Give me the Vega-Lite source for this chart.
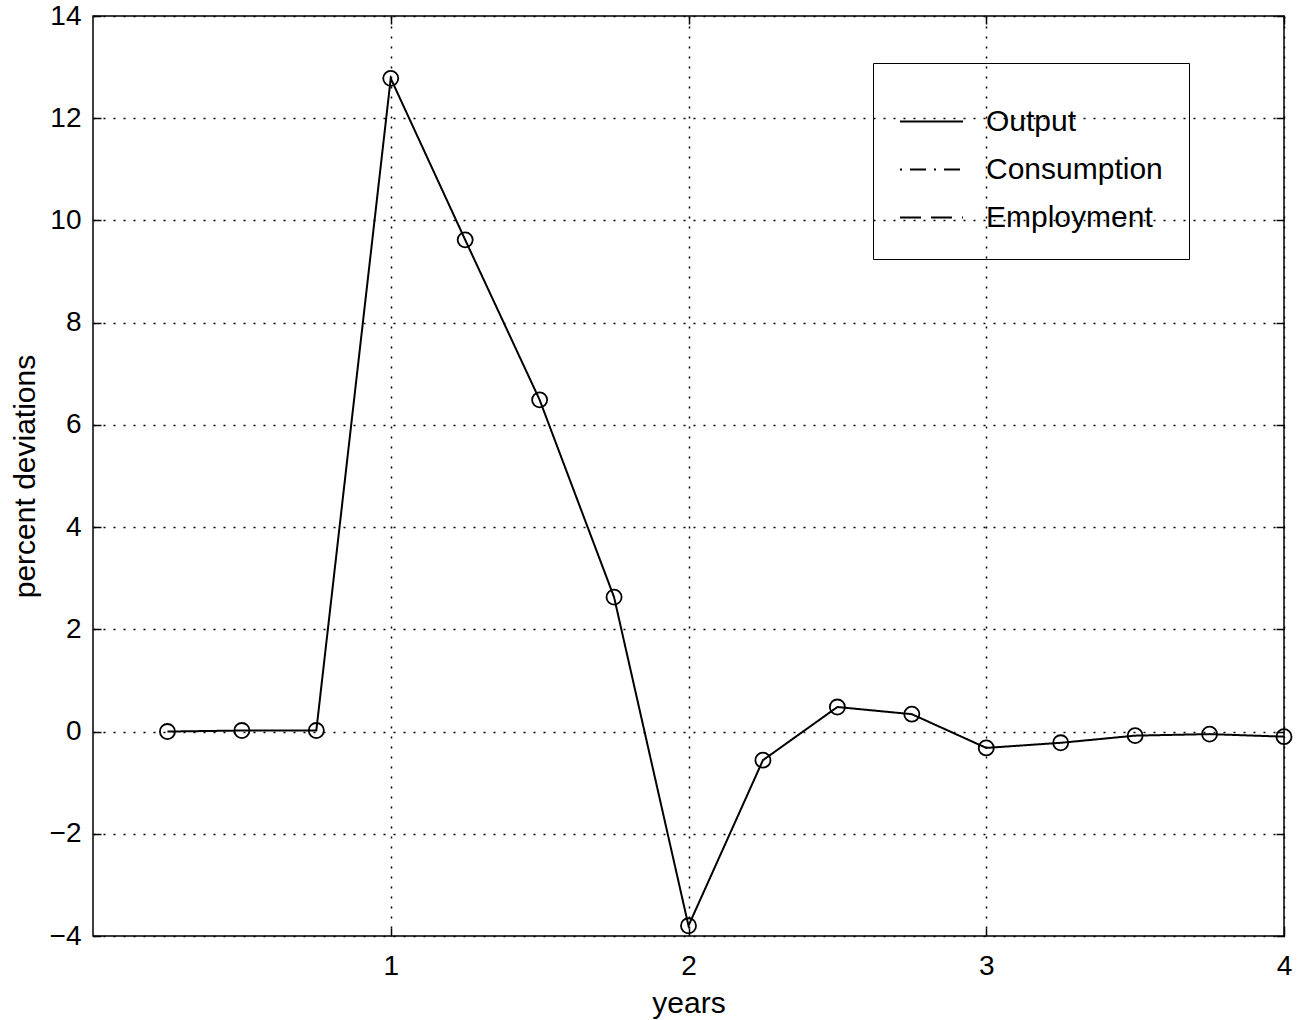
{
  "$schema": "https://vega.github.io/schema/vega-lite/v6.json",
  "autosize": "none",
  "width": 1191,
  "height": 920,
  "padding": {"left": 93, "top": 16, "right": 23, "bottom": 84},
  "background": "white",
  "config": {
    "font": "Liberation Sans",
    "view": {"stroke": "black", "strokeWidth": 1.5},
    "axis": {
      "labelFont": "Liberation Sans",
      "titleFont": "Liberation Sans",
      "labelColor": "black",
      "titleColor": "black",
      "titleFontWeight": "normal",
      "labelFontSize": 28,
      "titleFontSize": 30,
      "labelFlush": false,
      "domain": false,
      "tickColor": "black",
      "tickSize": -8,
      "tickWidth": 1.5,
      "gridColor": "black",
      "gridOpacity": 1,
      "gridDash": [2, 8],
      "gridWidth": 1.5
    },
    "legend": {
      "labelFont": "Liberation Sans",
      "labelFontSize": 30,
      "labelColor": "black",
      "labelLimit": 400
    }
  },
  "data": {
    "values": [
      {"years": 0.25, "value": 0.0, "series": "Output"},
      {"years": 0.5, "value": 0.02, "series": "Output"},
      {"years": 0.75, "value": 0.02, "series": "Output"},
      {"years": 1.0, "value": 12.78, "series": "Output"},
      {"years": 1.25, "value": 9.62, "series": "Output"},
      {"years": 1.5, "value": 6.49, "series": "Output"},
      {"years": 1.75, "value": 2.63, "series": "Output"},
      {"years": 2.0, "value": -3.8, "series": "Output"},
      {"years": 2.25, "value": -0.56, "series": "Output"},
      {"years": 2.5, "value": 0.48, "series": "Output"},
      {"years": 2.75, "value": 0.34, "series": "Output"},
      {"years": 3.0, "value": -0.32, "series": "Output"},
      {"years": 3.25, "value": -0.22, "series": "Output"},
      {"years": 3.5, "value": -0.08, "series": "Output"},
      {"years": 3.75, "value": -0.05, "series": "Output"},
      {"years": 4.0, "value": -0.1, "series": "Output"}
    ]
  },
  "layer": [
    {
      "mark": {"type": "line", "color": "black", "strokeWidth": 2},
      "encoding": {
        "x": {
          "field": "years", "type": "quantitative",
          "scale": {"domain": [0, 4], "nice": false, "zero": false},
          "axis": {"values": [1, 2, 3, 4], "title": "years", "labelPadding": 24, "titlePadding": 8, "format": "d", "orient": "bottom", "labelFontSize": 28, "titleFontSize": 30}
        },
        "y": {
          "field": "value", "type": "quantitative",
          "scale": {"domain": [-4, 14], "nice": false},
          "axis": {"values": [-4, -2, 0, 2, 4, 6, 8, 10, 12, 14], "title": "percent deviations", "labelPadding": 20, "titlePadding": 9, "orient": "left", "labelFontSize": 28, "titleFontSize": 30}
        },
        "strokeDash": {
          "field": "series", "type": "nominal",
          "scale": {
            "domain": ["Output", "Consumption", "Employment"],
            "range": [[1, 0], [2, 8, 16, 8], [21, 10]]
          },
          "legend": {
            "title": null,
            "orient": "none",
            "legendX": 780,
            "legendY": 47,
            "strokeColor": "black",
            "padding": 26,
            "symbolType": "stroke",
            "symbolSize": 3969,
            "symbolStrokeColor": "black",
            "symbolStrokeWidth": 1.8,
            "labelOffset": 22,
            "labelFontSize": 30,
            "labelLimit": 400,
            "rowPadding": 0
          }
        }
      }
    },
    {
      "mark": {"type": "point", "shape": "circle", "filled": false, "color": "black", "size": 227, "strokeWidth": 1.8, "opacity": 1},
      "encoding": {
        "x": {
          "field": "years", "type": "quantitative",
          "axis": {"values": [1, 2, 3, 4], "orient": "top", "labels": false, "grid": false, "title": null}
        },
        "y": {
          "field": "value", "type": "quantitative",
          "axis": {"values": [-4, -2, 0, 2, 4, 6, 8, 10, 12, 14], "orient": "right", "labels": false, "grid": false, "title": null}
        }
      }
    }
  ],
  "resolve": {"axis": {"x": "independent", "y": "independent"}}
}
